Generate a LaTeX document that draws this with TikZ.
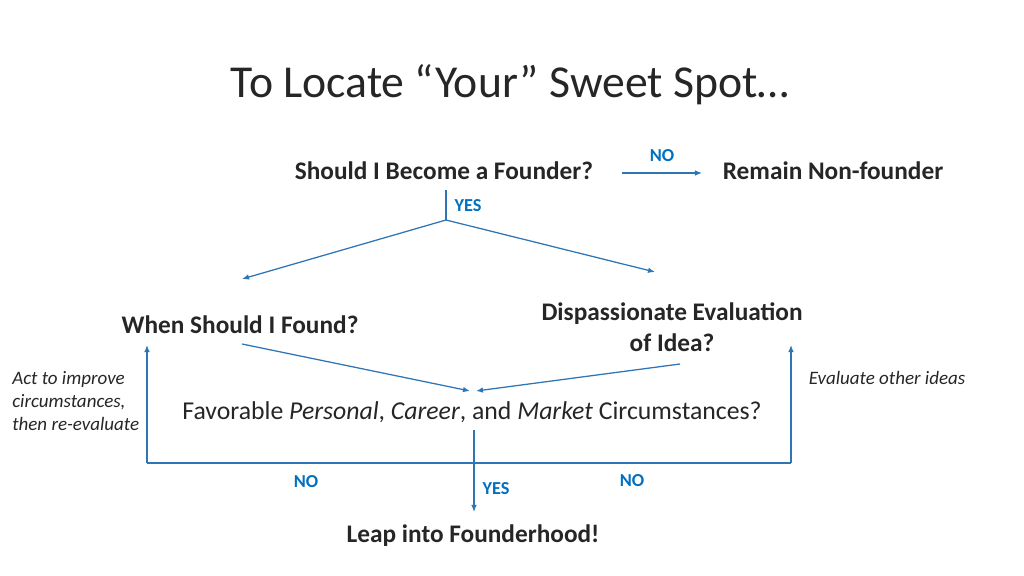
\documentclass[tikz,border=0pt]{standalone}
\usepackage{fontspec}
\setmainfont{Carlito}
\usetikzlibrary{arrows.meta}
\definecolor{lnblue}{RGB}{46,117,182}
\definecolor{lblblue}{RGB}{0,112,192}
\definecolor{txt}{RGB}{38,38,38}
\begin{document}
\begin{tikzpicture}[x=0.025cm,y=-0.025cm,
  q/.style={font=\fontsize{18}{22}\selectfont\bfseries,text=txt,inner sep=0pt,align=center},
  lbl/.style={font=\fontsize{13}{15}\selectfont\bfseries,text=lblblue,inner sep=0pt},
  note/.style={font=\fontsize{13.5}{16.3}\selectfont\itshape,text=txt,inner sep=0pt,align=left},
  ln/.style={draw=lnblue,line width=0.9pt},
  arr/.style={ln,-{Latex[length=5pt,width=4pt]}}]
\useasboundingbox (0,0) rectangle (1024,576);
\node[font=\fontsize{32.5}{38}\selectfont,text=txt] (title) at (510,85) {To Locate “Your” Sweet Spot…};
\node[q] (found) at (444,171) {Should I Become a Founder?};
\node[q] (remain) at (833,171) {Remain Non-founder};
\node[q] (when) at (240,325) {When Should I Found?};
\node[q] (disp) at (672,327) {Dispassionate Evaluation\\ of Idea?};
\node[font=\fontsize{18.3}{22}\selectfont,text=txt,inner sep=0pt] (fav) at (472,412) {Favorable \textit{Personal}, \textit{Career}, and \textit{Market} Circumstances?};
\node[q] (leap) at (473,536) {Leap into Founderhood!};
\node[note,anchor=west] (act) at (12,401) {Act to improve\\circumstances,\\then re-evaluate};
\node[note] (eval) at (887,378) {Evaluate other ideas};
\node[lbl] (no1) at (662,156) {NO};
\node[lbl] (yes1) at (468,206) {YES};
\node[lbl] (no2) at (306,482) {NO};
\node[lbl] (no3) at (632,481) {NO};
\node[lbl] (yes2) at (496,489) {YES};
\coordinate (a1) at (622,173); \coordinate (a2) at (702,173);
\draw[arr] (a1) -- (a2);
\coordinate (s) at (446,190); \coordinate (j) at (446,220);
\coordinate (w) at (242,279); \coordinate (d) at (655,272);
\draw[ln] (s) -- (j);
\draw[arr] (j) -- (w);
\draw[arr] (j) -- (d);
\coordinate (w2) at (242,344); \coordinate (d2) at (680,364);
\coordinate (f1) at (470,391); \coordinate (f2) at (476,391);
\draw[arr] (w2) -- (f1);
\draw[arr] (d2) -- (f2);
\coordinate (v1) at (474,430); \coordinate (v2) at (474,512);
\draw[arr] (v1) -- (v2);
\coordinate (L) at (147,463); \coordinate (R) at (791,463);
\coordinate (Lt) at (147,345); \coordinate (Rt) at (791,345);
\draw[ln] (L) -- (R);
\draw[arr] (L) -- (Lt);
\draw[arr] (R) -- (Rt);
\end{tikzpicture}
\end{document}
